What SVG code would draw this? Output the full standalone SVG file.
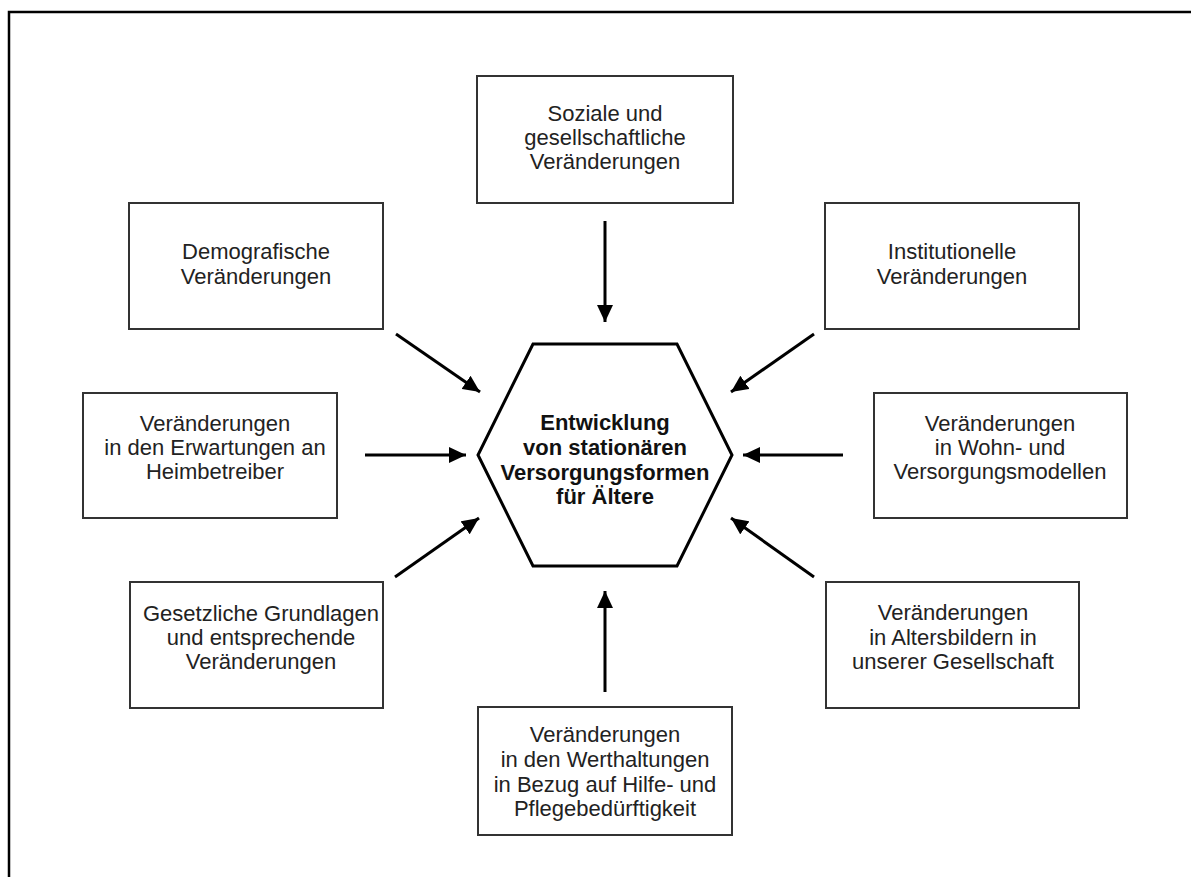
<svg xmlns="http://www.w3.org/2000/svg" width="1191" height="877" viewBox="0 0 1191 877">
<style>
.box{fill:#fff;stroke:#333;stroke-width:2}
.hex{fill:#fff;stroke:#000;stroke-width:3;stroke-linejoin:miter}
.t{font-family:"Liberation Sans",Arial,sans-serif;font-size:22px;fill:#222;text-anchor:middle}
.b{font-weight:bold;fill:#111}
.arr{stroke:#000;stroke-width:3;fill:none;marker-end:url(#ah)}
</style>
<defs>
<marker id="ah" markerUnits="userSpaceOnUse" markerWidth="18" markerHeight="16" refX="17" refY="8" orient="auto">
<path d="M0,0 L17,8 L0,16 z" fill="#000"/>
</marker>
</defs>
<rect width="1191" height="877" fill="#fff"/>
<path d="M9,877 V12 H1191" fill="none" stroke="#000" stroke-width="2.5"/>

<g id="connectors">
<line class="arr" x1="605" y1="221" x2="605" y2="322"/>
<line class="arr" x1="605" y1="692" x2="605" y2="591"/>
<line class="arr" x1="365" y1="455" x2="466" y2="455"/>
<line class="arr" x1="843" y1="455" x2="743" y2="455"/>
<line class="arr" x1="396" y1="334" x2="480" y2="392"/>
<line class="arr" x1="814" y1="334" x2="731" y2="392"/>
<line class="arr" x1="395" y1="577" x2="479" y2="518"/>
<line class="arr" x1="814" y1="577" x2="731" y2="518"/>
</g>

<g id="center">
<polygon class="hex" points="533,344 677,344 732,455 677,566 533,566 478,455"/>
<text class="t b"><tspan x="605" y="430">Entwicklung</tspan><tspan x="605" y="455">von stationären</tspan><tspan x="605" y="480">Versorgungsformen</tspan><tspan x="605" y="504">für Ältere</tspan></text>
</g>

<g id="soziale">
<rect class="box" x="477" y="76" width="256" height="127"/>
<text class="t"><tspan x="605" y="121">Soziale und</tspan><tspan x="605" y="145">gesellschaftliche</tspan><tspan x="605" y="169">Veränderungen</tspan></text>
</g>

<g id="demografische">
<rect class="box" x="129" y="203" width="254" height="126"/>
<text class="t"><tspan x="256" y="259">Demografische</tspan><tspan x="256" y="284">Veränderungen</tspan></text>
</g>

<g id="institutionelle">
<rect class="box" x="825" y="203" width="254" height="126"/>
<text class="t"><tspan x="952" y="259">Institutionelle</tspan><tspan x="952" y="284">Veränderungen</tspan></text>
</g>

<g id="erwartungen">
<rect class="box" x="83" y="393" width="254" height="125"/>
<text class="t"><tspan x="215" y="431">Veränderungen</tspan><tspan x="215" y="455">in den Erwartungen an</tspan><tspan x="215" y="479">Heimbetreiber</tspan></text>
</g>

<g id="wohnmodelle">
<rect class="box" x="874" y="393" width="253" height="125"/>
<text class="t"><tspan x="1000" y="431">Veränderungen</tspan><tspan x="1000" y="455">in Wohn- und</tspan><tspan x="1000" y="479">Versorgungsmodellen</tspan></text>
</g>

<g id="gesetzliche">
<rect class="box" x="130" y="582" width="253" height="126"/>
<text class="t"><tspan x="261" y="621">Gesetzliche Grundlagen</tspan><tspan x="261" y="645">und entsprechende</tspan><tspan x="261" y="669">Veränderungen</tspan></text>
</g>

<g id="altersbilder">
<rect class="box" x="826" y="582" width="253" height="126"/>
<text class="t"><tspan x="953" y="620">Veränderungen</tspan><tspan x="953" y="645">in Altersbildern in</tspan><tspan x="953" y="669">unserer Gesellschaft</tspan></text>
</g>

<g id="werthaltungen">
<rect class="box" x="478" y="707" width="254" height="128"/>
<text class="t"><tspan x="605" y="742">Veränderungen</tspan><tspan x="605" y="767">in den Werthaltungen</tspan><tspan x="605" y="792">in Bezug auf Hilfe- und</tspan><tspan x="605" y="816">Pflegebedürftigkeit</tspan></text>
</g>
</svg>
